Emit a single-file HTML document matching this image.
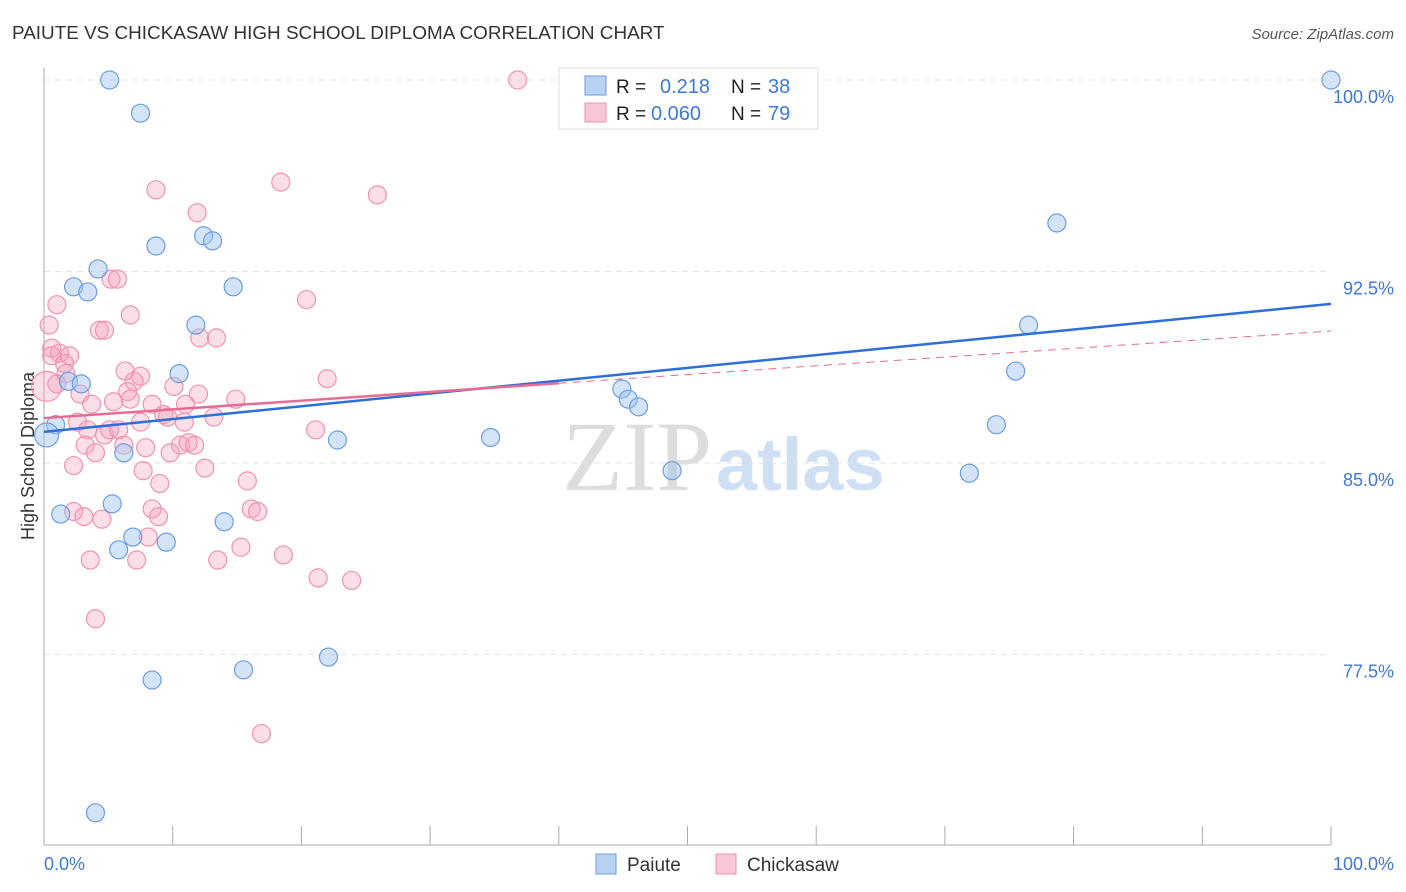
<!DOCTYPE html>
<html><head><meta charset="utf-8"><style>
body{margin:0;background:#fff;font-family:"Liberation Sans",sans-serif;}
#wrap{position:relative;width:1406px;height:892px;overflow:hidden;}
</style></head><body>
<div id="wrap">
<svg id="svg" width="1406" height="892" xmlns="http://www.w3.org/2000/svg">
<text x="12" y="39" font-size="18.9" fill="#333">PAIUTE VS CHICKASAW HIGH SCHOOL DIPLOMA CORRELATION CHART</text>
<text x="1394" y="39" font-size="15" fill="#555" font-style="italic" text-anchor="end">Source: ZipAtlas.com</text>
<text x="34" y="456" font-size="18" fill="#333" text-anchor="middle" transform="rotate(-90 34 456)">High School Diploma</text>
<text x="712" y="490" font-size="100" fill="#ddd" text-anchor="end" font-family="Liberation Serif,serif">ZIP</text>
<text x="716" y="490" font-size="74" fill="#cfe0f5" font-weight="bold">atlas</text>
<g id="grid"></g><g id="marks"></g>
<g>
<rect x="559" y="68" width="259" height="61" fill="#fff" stroke="#ddd"/>
<rect x="585" y="76" width="21" height="19" fill="#b8d2f4" stroke="#6b9de0"/>
<rect x="585" y="103" width="21" height="19" fill="#f9c6d5" stroke="#ef93b0"/>
<text x="616" y="93" font-size="19" fill="#222">R = </text><text x="660" y="93" font-size="20" fill="#3d78d8">0.218</text>
<text x="731" y="93" font-size="19" fill="#222">N = </text><text x="768" y="93" font-size="20" fill="#3d78d8">38</text>
<text x="616" y="120" font-size="19" fill="#222">R = </text><text x="651" y="120" font-size="20" fill="#3d78d8">0.060</text>
<text x="731" y="120" font-size="19" fill="#222">N = </text><text x="768" y="120" font-size="20" fill="#3d78d8">79</text>
</g>
<g>
<rect x="596" y="854" width="20" height="20" fill="#b8d2f4" stroke="#6b9de0"/>
<text x="627" y="871" font-size="19" fill="#333">Paiute</text>
<rect x="716" y="854" width="20" height="20" fill="#f9c6d5" stroke="#ef93b0"/>
<text x="747" y="871" font-size="19" fill="#333">Chickasaw</text>
</g>
<text x="44" y="870" font-size="18" fill="#3d78d8">0.0%</text>
<text x="1394" y="870" font-size="18" fill="#3d78d8" text-anchor="end">100.0%</text>
</svg>
</div>
<script>
const yTicks=[100,92.5,85,77.5];
const yTickLabels=["100.0%","92.5%","85.0%","77.5%"];
const paiuteX=[5.1,7.5,8.7,12.4,13.1,4.2,2.3,3.4,14.7,11.8,10.5,1.9,2.9,0.9,0.2,6.2,22.8,34.7,44.9,45.4,46.2,48.8,5.3,1.3,14.0,6.9,9.5,5.8,8.4,15.5,22.1,4.0,100,78.7,76.5,75.5,74.0,71.9];
const paiuteY=[100,98.7,93.5,93.9,93.7,92.6,91.9,91.7,91.9,90.4,88.5,88.2,88.1,86.5,86.1,85.4,85.9,86.0,87.9,87.5,87.2,84.7,83.4,83.0,82.7,82.1,81.9,81.6,76.5,76.9,77.4,71.3,100,94.4,90.4,88.6,86.5,84.6];
const chickX=[36.8,8.7,18.4,25.9,11.9,5.2,5.7,1.0,20.4,6.7,0.4,4.3,4.7,12.1,13.4,0.6,1.2,2.0,0.6,1.6,1.7,6.3,7.5,7.0,22.0,10.1,1.0,0.2,6.5,2.8,6.7,12.0,11.0,14.9,3.7,5.4,8.4,9.3,9.6,13.2,2.6,10.9,7.5,5.1,3.4,21.1,4.7,5.8,6.2,3.2,10.6,11.2,11.7,7.9,9.8,4.0,2.3,12.5,7.7,15.8,9.0,8.4,16.1,16.6,2.3,3.1,4.5,8.9,8.1,15.3,18.6,3.6,7.2,13.5,21.3,23.9,4.0,16.9];
const chickY=[100,95.7,96.0,95.5,94.8,92.2,92.2,91.2,91.4,90.8,90.4,90.2,90.2,89.9,89.9,89.5,89.3,89.2,89.2,88.9,88.5,88.6,88.4,88.2,88.3,88.0,88.1,88.0,87.8,87.7,87.5,87.7,87.3,87.5,87.3,87.4,87.3,86.9,86.8,86.8,86.6,86.6,86.6,86.3,86.3,86.3,86.1,86.3,85.7,85.7,85.7,85.8,85.7,85.6,85.4,85.4,84.9,84.8,84.7,84.3,84.2,83.2,83.2,83.1,83.1,82.9,82.8,82.9,82.1,81.7,81.4,81.2,81.2,81.2,80.5,80.4,78.9,74.4];
const paiuteTrend=[86.22,91.23];
const chickTrend=[86.76,90.17];
const chickSolidEnd=40;
const NS="http://www.w3.org/2000/svg";
const X=v=>44+v*12.87;
const Y=v=>80+(100-v)*191.5/7.5;
function mk(tag,attrs,parent){const e=document.createElementNS(NS,tag);for(const k in attrs)e.setAttribute(k,attrs[k]);parent.appendChild(e);return e;}
const grid=document.getElementById('grid'),marks=document.getElementById('marks');
yTicks.forEach((t,i)=>{
 const l=mk('line',{x1:44,x2:1331,y1:Y(t),y2:Y(t),stroke:'#e3e3e3','stroke-dasharray':'6 5'},grid);
 
 
 const tx=mk('text',{x:1394,y:Y(t)+23,'font-size':18,fill:'#3d78d8','text-anchor':'end'},grid);
 tx.textContent=yTickLabels[i];
 
 
});
const ax=mk('line',{x1:44,x2:44,y1:68,y2:845,stroke:'#aaa'},grid);


const bx=mk('line',{x1:44,x2:1331,y1:845,y2:845,stroke:'#aaa'},grid);


for(let i=0;i<=10;i++){
 const t=mk('line',{x1:X(i*10),x2:X(i*10),y1:826,y2:845,stroke:'#aaa'},grid);
 
 
}
chickX.forEach((x,i)=>{
 const c=mk('circle',{cx:X(x),cy:Y(chickY[i]),r:(x<0.3?15:9),fill:'rgba(244,160,186,0.35)',stroke:'#ef93b0','stroke-width':1.2},marks);
 
 
});
paiuteX.forEach((x,i)=>{
 const c=mk('circle',{cx:X(x),cy:Y(paiuteY[i]),r:(x<0.3?12:9),fill:'rgba(160,195,240,0.45)',stroke:'#6b9de0','stroke-width':1.2},marks);
 
 
});
const pl=mk('line',{x1:X(0),y1:Y(paiuteTrend[0]),x2:X(100),y2:Y(paiuteTrend[1]),stroke:'#2d6fd6','stroke-width':2.5},marks);


const cm=chickTrend[0]+(chickTrend[1]-chickTrend[0])*chickSolidEnd/100;
const cd=mk('line',{x1:X(chickSolidEnd),y1:Y(cm),x2:X(100),y2:Y(chickTrend[1]),stroke:'#e86b93','stroke-width':1,'stroke-dasharray':'8 6'},marks);


const cs=mk('line',{x1:X(0),y1:Y(chickTrend[0]),x2:X(chickSolidEnd),y2:Y(cm),stroke:'#e86b93','stroke-width':2.5},marks);


</script>
</body></html>
